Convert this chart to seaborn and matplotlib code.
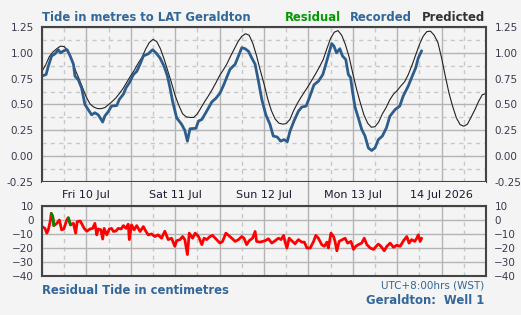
#Tide chart: predicted / recorded tide and residual, Geraldton
import numpy as np
import pandas as pd
import seaborn as sns
import matplotlib
matplotlib.use('Agg')
import matplotlib.pyplot as plt
from matplotlib.ticker import MultipleLocator

sns.set_theme(style='ticks')
plt.rcParams['font.family'] = ['DejaVu Sans']

# hours since Fri 10 Jul 00:00
pred_hours = list(range(0, 121))
pred_m = [0.82, 0.885, 0.965, 1.01, 1.04, 1.065, 1.06, 1.02, 0.935, 0.835, 0.75,
          0.66, 0.57, 0.505, 0.475, 0.46, 0.46, 0.47, 0.50, 0.53, 0.565,
          0.61, 0.66, 0.72, 0.78, 0.835, 0.90, 0.955, 1.035, 1.10, 1.13,
          1.11, 1.04, 0.94, 0.825, 0.71, 0.585, 0.49, 0.41, 0.38, 0.375,
          0.375, 0.41, 0.47, 0.53, 0.585, 0.645, 0.71, 0.78, 0.835, 0.895,
          0.97, 1.04, 1.11, 1.16, 1.185, 1.17, 1.09, 0.97, 0.83, 0.70,
          0.555, 0.44, 0.36, 0.32, 0.31, 0.315, 0.355, 0.44, 0.51, 0.57,
          0.625, 0.68, 0.74, 0.80, 0.865, 0.935, 1.04, 1.14, 1.20, 1.215,
          1.17, 1.08, 0.96, 0.80, 0.65, 0.52, 0.40, 0.32, 0.28, 0.285,
          0.33, 0.41, 0.47, 0.545, 0.60, 0.635, 0.68, 0.72, 0.79, 0.88,
          0.98, 1.08, 1.16, 1.205, 1.21, 1.17, 1.10, 0.95, 0.775, 0.61,
          0.48, 0.37, 0.305, 0.29, 0.31, 0.38, 0.45, 0.53, 0.595, 0.605]

rec_hours = [0, 1.1, 1.7, 2.6, 3.5, 4.4, 5.0, 5.9, 6.8, 7.6, 8.5, 8.9, 9.8, 10.7,
             11.6, 12.5, 13.4, 14.3, 15.2, 16.4, 17.0, 17.9, 18.8, 20.2, 20.9,
             22.0, 22.7, 23.6, 24.7, 25.6, 26.5, 27.4, 28.7, 29.9, 30.8, 31.9,
             33.0, 33.9, 34.6, 35.3, 36.4, 37.7, 38.6, 39.3, 40.0, 41.6, 42.3,
             43.2, 44.5, 45.9, 47.0, 48.1, 49.0, 49.9, 50.8, 52.2, 53.1, 54.0,
             54.9, 55.8, 56.7, 57.6, 58.5, 59.4, 60.5, 61.6, 62.5, 63.6, 64.5,
             65.4, 66.3, 67.0, 68.1, 69.3, 70.2, 71.4, 72.4, 73.5, 74.7, 75.9,
             76.8, 77.7, 78.3, 78.9, 79.6, 80.5, 81.2, 82.1, 82.8, 83.4, 83.9,
             84.6, 85.5, 86.4, 87.3, 88.2, 89.1, 90.0, 90.9, 92.0, 93.1, 94.0,
             95.4, 96.7, 97.6, 99.0, 99.9, 101.0, 101.7, 102.6]
rec_m = [0.775, 0.79, 0.87, 0.97, 0.99, 1.03, 1.00, 1.02, 1.03, 0.97, 0.89, 0.775,
         0.74, 0.66, 0.50, 0.45, 0.40, 0.42, 0.40, 0.33, 0.39, 0.43, 0.485, 0.49,
         0.55, 0.60, 0.66, 0.71, 0.79, 0.82, 0.89, 0.97, 0.99, 1.03, 1.00, 0.95,
         0.87, 0.775, 0.66, 0.53, 0.37, 0.31, 0.25, 0.145, 0.265, 0.27, 0.34,
         0.355, 0.435, 0.525, 0.56, 0.61, 0.68, 0.76, 0.84, 0.89, 0.97, 1.05,
         1.04, 1.015, 0.95, 0.89, 0.725, 0.55, 0.40, 0.31, 0.195, 0.185, 0.145,
         0.16, 0.14, 0.24, 0.34, 0.435, 0.475, 0.485, 0.58, 0.69, 0.725, 0.79,
         0.90, 1.015, 1.09, 1.065, 1.00, 1.04, 0.97, 0.935, 0.79, 0.76, 0.63,
         0.475, 0.37, 0.26, 0.195, 0.08, 0.055, 0.08, 0.16, 0.195, 0.275, 0.385,
         0.45, 0.485, 0.58, 0.68, 0.76, 0.855, 0.95, 1.02]

res_hours = [0, 0.8, 1.3, 1.7, 2.3, 2.5, 2.9, 3.2, 4.0, 4.7, 5.3, 5.9, 6.7, 7.1,
             7.7, 8.5, 9.1, 9.5, 10.3, 10.7, 11.4, 12.1, 13.0, 13.7, 14.3, 14.8,
             15.2, 15.9, 16.4, 16.8, 17.5, 18.2, 18.8, 19.3, 20.0, 20.6, 21.4,
             22.0, 22.7, 23.3, 23.6, 24.2, 24.9, 25.6, 26.5, 27.4, 28.1, 28.7,
             29.6, 30.5, 31.4, 32.3, 33.2, 34.1, 35.0, 35.9, 36.4, 37.3, 38.0,
             38.6, 39.3, 39.8, 40.7, 41.4, 42.3, 43.2, 43.8, 44.5, 45.4, 46.1,
             47.2, 48.1, 48.8, 49.7, 50.4, 51.3, 52.2, 53.1, 54.0, 54.6, 55.3,
             56.0, 56.9, 57.6, 58.0, 58.9, 60.3, 61.2, 62.1, 63.0, 63.9, 64.6,
             65.3, 65.7, 66.2, 66.8, 67.5, 68.4, 69.3, 70.2, 70.9, 71.6, 72.5,
             73.4, 74.0, 74.7, 75.6, 76.3, 77.0, 77.4, 78.1, 78.8, 79.2, 79.7,
             80.3, 81.2, 81.9, 82.6, 83.5, 84.2, 84.8, 85.5, 86.4, 87.1, 87.8,
             88.7, 89.6, 90.3, 90.9, 91.6, 92.5, 93.2, 94.1, 95.0, 95.9, 96.8,
             97.7, 98.6, 99.2, 99.9, 100.7, 101.3, 101.7, 102.2, 102.6]
res_cm = [-4.7, -6, -9.4, -7, 0, 4.7, 2.4, -4, -2.4, 0, -7, -6.4, 0, 1.6,
          -3.5, -2.4, -9.4, -1.2, -0.7, -2.4, -6, -8, -6.4, -6, -2.4, -10.6,
          -6.4, -7, -13.6, -6, -10.6, -6.4, -6, -8.2, -7.8, -6, -6.4,
          -4, -6, -3, -14, -3.5, -7, -4, -8.2, -4.7, -8.2, -10.6,
          -10, -11.8, -10.6, -13, -8, -14, -13, -18.8, -14.8, -14, -11.8,
          -14, -24.7, -9.4, -13, -9.4, -11.8, -17.6, -13, -14, -11.8, -11,
          -14, -16.5, -15.3, -9.4, -11, -13, -15.3, -14, -11.8, -13, -17.6,
          -14.8, -13, -8.2, -15.3, -15.8, -14.8, -13.4, -16.5, -14.8, -13, -14,
          -11, -15.8, -20, -13, -14.8, -17, -14, -15.8, -15.8, -20, -20,
          -15.3, -11, -13, -17.6, -18.8, -15.8, -20, -9.4, -11.8, -15.3, -22,
          -15.3, -14, -13, -16.5, -15.3, -21, -18.8, -17.6, -16.5, -13, -17.6,
          -20, -21, -18.8, -17.2, -18.8, -22, -18.8, -16.5, -19.5, -18, -18.8,
          -14.8, -11.8, -16.5, -14, -15.3, -13, -10.6, -15.3, -13]

day_labels = ['Fri 10 Jul', 'Sat 11 Jul', 'Sun 12 Jul', 'Mon 13 Jul', '14 Jul 2026']

bg = '#f4f4f4'
blue = '#336699'
rec_col = '#2d5d8c'
lab_col = '#3a3a4e'
W, H = 521, 315

fig = plt.figure(figsize=(W / 100, H / 100), dpi=100, facecolor=bg)
ax = fig.add_axes([42 / W, 1 - 182 / H, 444 / W, 155 / H])
band = fig.add_axes([42 / W, 1 - 206 / H, 444 / W, 24 / H])
ax2 = fig.add_axes([42 / W, 1 - 276 / H, 444 / W, 70 / H])

df_pred = pd.DataFrame({'h': pred_hours, 'v': pred_m})
df_rec = pd.DataFrame({'h': rec_hours, 'v': rec_m})
df_res = pd.DataFrame({'h': res_hours, 'v': res_cm})

def grid_style(a):
    a.set_facecolor(bg)
    a.grid(which='major', color='#b4b4b4', linewidth=1.0, linestyle='-')
    a.grid(which='minor', color='#c8c8c8', linewidth=1.0, linestyle=(0, (3, 3)))
    a.set_axisbelow(True)
    for s in a.spines.values():
        s.set_color('#444444')
        s.set_linewidth(1.5)
    a.tick_params(which='both', length=0, labelsize=7.5, labelcolor=lab_col,
                  labelleft=True, labelright=True, labelbottom=False, pad=6)
    a.set_xlabel('')
    a.set_ylabel('')
    a.set_xlim(0, 120)

sns.lineplot(data=df_pred, x='h', y='v', ax=ax, color='#222222', linewidth=0.8)
sns.lineplot(data=df_rec, x='h', y='v', ax=ax, color=rec_col, linewidth=2.0)
ax.set_ylim(-0.25, 1.25)
ax.xaxis.set_major_locator(MultipleLocator(12))
ax.xaxis.set_minor_locator(MultipleLocator(6))
ax.yaxis.set_major_locator(MultipleLocator(0.25))
ax.yaxis.set_minor_locator(MultipleLocator(0.125))
ax.yaxis.set_major_formatter(matplotlib.ticker.FormatStrFormatter('%.2f'))
grid_style(ax)

sns.lineplot(data=df_res, x='h', y='v', ax=ax2, color='#ff0000', linewidth=2.0)
r = np.array(res_cm)
prev = np.concatenate([[r[0]], r[:-1]])
green = np.where((r > 0) | (prev > 0), r, np.nan)
ax2.plot(res_hours, green, color='#008800', linewidth=2.0)
ax2.set_ylim(-40, 10)
ax2.xaxis.set_major_locator(MultipleLocator(12))
ax2.xaxis.set_minor_locator(MultipleLocator(6))
ax2.yaxis.set_major_locator(MultipleLocator(10))
grid_style(ax2)

# date band
band.set_facecolor(bg)
band.set_xlim(0, 120)
band.set_ylim(0, 1)
band.set_xticks([])
band.set_yticks([])
for s in band.spines.values():
    s.set_visible(False)
for d in range(1, 5):
    band.axvline(d * 24, color='#a8a8a8', linewidth=1.0)
for i, lab in enumerate(day_labels):
    band.text(i * 24 + 12, 0.45, lab, ha='center', va='center', fontsize=8, color='#1a1a33')

fs = 8.4
fig.text(42 / W, 1 - 21 / H, 'Tide in metres to LAT Geraldton', color=blue,
         fontsize=fs, fontweight='bold', va='baseline', ha='left')
fig.text(285 / W, 1 - 21 / H, 'Residual', color='#009900', fontsize=fs,
         fontweight='bold', va='baseline', ha='left')
fig.text(350 / W, 1 - 21 / H, 'Recorded', color=blue, fontsize=fs,
         fontweight='bold', va='baseline', ha='left')
fig.text(485 / W, 1 - 21 / H, 'Predicted', color='#333333', fontsize=fs,
         fontweight='bold', va='baseline', ha='right')
fig.text(42 / W, 1 - 294 / H, 'Residual Tide in centimetres', color=blue,
         fontsize=fs, fontweight='bold', va='baseline', ha='left')
fig.text(484 / W, 1 - 289 / H, 'UTC+8:00hrs (WST)', color=blue,
         fontsize=7.5, va='baseline', ha='right')
fig.text(484 / W, 1 - 304 / H, 'Geraldton:  Well 1', color=blue,
         fontsize=fs, fontweight='bold', va='baseline', ha='right')

fig.savefig('out.png', dpi=100, facecolor=bg)
